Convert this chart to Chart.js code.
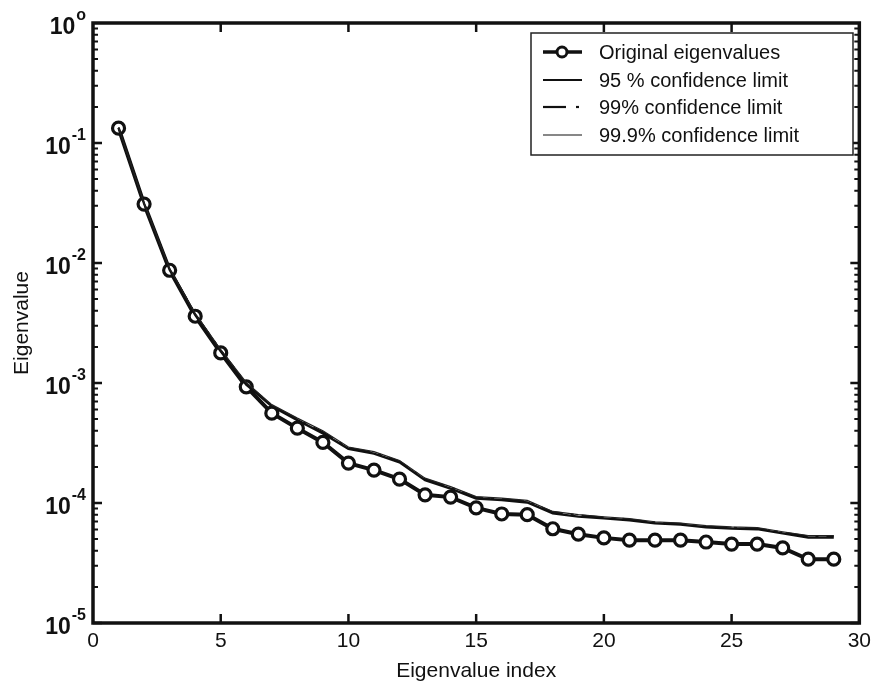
<!DOCTYPE html>
<html>
<head>
<meta charset="utf-8">
<script src="https://cdn.jsdelivr.net/npm/chart.js@4.4.1/dist/chart.umd.min.js"></script>
<style>
  html, body { margin: 0; padding: 0; background: #fff; }
  #wrap { width: 877px; height: 684px; }
</style>
</head>
<body>
<div id="wrap"><canvas id="eigChart" width="877" height="684"></canvas></div>
<script>
// values
const eigIndex = [1, 2, 3, 4, 5, 6, 7, 8, 9, 10, 11, 12, 13, 14, 15, 16, 17, 18, 19, 20, 21, 22, 23, 24, 25, 26, 27, 28, 29];
const originalEig = [0.133, 0.031, 0.0087, 0.0036, 0.00178, 0.00093, 0.00056, 0.00042, 0.00032, 0.000215,
    0.000188, 0.000158, 0.000117, 0.000112, 0.000091, 0.000081, 0.000080, 0.000061, 0.000055, 0.0000512,
    0.000049, 0.000049, 0.000049, 0.0000473, 0.0000455, 0.0000455, 0.0000422, 0.000034, 0.000034];
const conf95 = [0.134, 0.0312, 0.0088, 0.0037, 0.00184, 0.00097, 0.00064, 0.00049, 0.00038, 0.000283,
    0.000258, 0.000218, 0.000155, 0.000132, 0.000109, 0.000106, 0.000101, 0.000082, 0.000077, 0.0000745,
    0.0000718, 0.0000678, 0.0000660, 0.0000628, 0.0000613, 0.0000605, 0.0000558, 0.0000516, 0.0000516];
const conf99 = [0.134, 0.0313, 0.0089, 0.00375, 0.00187, 0.00099, 0.00065, 0.00050, 0.00039, 0.000288,
    0.000263, 0.000222, 0.000158, 0.000135, 0.000111, 0.000108, 0.000103, 0.000084, 0.000079, 0.0000758,
    0.0000730, 0.0000688, 0.0000670, 0.0000638, 0.0000622, 0.0000614, 0.0000566, 0.0000528, 0.0000528];
const conf999 = [0.135, 0.0315, 0.0090, 0.0038, 0.0019, 0.00101, 0.00066, 0.00051, 0.00040, 0.000293,
    0.000268, 0.000226, 0.000161, 0.000137, 0.000113, 0.000110, 0.000105, 0.000085, 0.000080, 0.0000768,
    0.0000740, 0.0000698, 0.0000680, 0.0000648, 0.0000632, 0.0000624, 0.0000576, 0.0000536, 0.0000536];
const xTicks = [0, 5, 10, 15, 20, 25, 30];
const yExponents = [0, -1, -2, -3, -4, -5];
const seriesLabels = ['Original eigenvalues', '95 % confidence limit', '99% confidence limit', '99.9% confidence limit'];

const FONT = '"Liberation Sans", Arial, sans-serif';

function toPoints(values) {
    return eigIndex.map((x, i) => ({ x: x, y: values[i] }));
}

// frame, inward ticks, y labels with exponents, legend
const matlabAxes = {
    id: 'matlabAxes',
    afterDraw(chart) {
        const ctx = chart.ctx;
        const area = chart.chartArea;
        const xs = chart.scales.x;
        const ys = chart.scales.y;
        ctx.save();
        ctx.strokeStyle = '#111';
        ctx.fillStyle = '#111';

        // x ticks (top and bottom, inward)
        ctx.lineWidth = 2.5;
        xTicks.forEach(v => {
            if (v === 0 || v === 30) return;
            const px = xs.getPixelForValue(v);
            ctx.beginPath();
            ctx.moveTo(px, area.bottom); ctx.lineTo(px, area.bottom - 9);
            ctx.moveTo(px, area.top); ctx.lineTo(px, area.top + 9);
            ctx.stroke();
        });

        // y ticks, major and minor
        yExponents.forEach(e => {
            if (e === -5) return;
            for (let m = 1; m <= 9; m++) {
                const v = m * Math.pow(10, e - 1);
                const py = ys.getPixelForValue(v);
                const len = m === 1 ? 9 : 5;
                ctx.lineWidth = m === 1 ? 2.5 : 2;
                ctx.beginPath();
                ctx.moveTo(area.left, py); ctx.lineTo(area.left + len, py);
                ctx.moveTo(area.right, py); ctx.lineTo(area.right - len, py);
                ctx.stroke();
            }
        });

        // frame
        ctx.lineWidth = 3.5;
        ctx.strokeRect(area.left, area.top, area.right - area.left, area.bottom - area.top);

        // y tick labels 10^e
        yExponents.forEach(e => {
            const py = ys.getPixelForValue(Math.pow(10, e));
            const expText = e === 0 ? 'o' : String(e);
            ctx.font = 'bold 16px ' + FONT;
            const expW = ctx.measureText(expText).width;
            ctx.font = 'bold 23px ' + FONT;
            ctx.textAlign = 'right';
            ctx.textBaseline = 'middle';
            const baseRight = area.left - 8 - expW;
            ctx.fillText('10', baseRight, py + 5);
            ctx.font = 'bold 16px ' + FONT;
            ctx.textAlign = 'left';
            ctx.fillText(expText, baseRight + 1, py - 7);
        });

        // legend box
        const lx = 531, ly = 33, lw = 322, lh = 122;
        ctx.fillStyle = '#fff';
        ctx.fillRect(lx, ly, lw, lh);
        ctx.lineWidth = 1.5;
        ctx.strokeStyle = '#222';
        ctx.strokeRect(lx, ly, lw, lh);
        const rows = [52, 80, 107, 135];
        ctx.font = '20px ' + FONT;
        ctx.textAlign = 'left';
        ctx.textBaseline = 'middle';
        rows.forEach((ry, i) => {
            ctx.strokeStyle = '#111';
            ctx.setLineDash([]);
            if (i === 0) {
                ctx.lineWidth = 3.5;
                ctx.beginPath(); ctx.moveTo(543, ry); ctx.lineTo(582, ry); ctx.stroke();
                ctx.lineWidth = 3;
                ctx.fillStyle = '#fff';
                ctx.beginPath(); ctx.arc(562, ry, 5, 0, Math.PI * 2); ctx.fill(); ctx.stroke();
            } else if (i === 1) {
                ctx.lineWidth = 2.2;
                ctx.beginPath(); ctx.moveTo(543, ry); ctx.lineTo(582, ry); ctx.stroke();
            } else if (i === 2) {
                ctx.lineWidth = 2.2;
                ctx.beginPath(); ctx.moveTo(543, ry); ctx.lineTo(566, ry); ctx.stroke();
                ctx.beginPath(); ctx.moveTo(576, ry); ctx.lineTo(579, ry); ctx.stroke();
            } else {
                ctx.lineWidth = 1.2;
                ctx.beginPath(); ctx.moveTo(543, ry); ctx.lineTo(582, ry); ctx.stroke();
            }
            ctx.fillStyle = '#111';
            ctx.fillText(seriesLabels[i], 599, ry + 1);
        });
        ctx.restore();
    }
};

const ctx = document.getElementById('eigChart').getContext('2d');
new Chart(ctx, {
    type: 'line',
    data: {
        datasets: [
            {
                label: seriesLabels[3],
                data: toPoints(conf999),
                borderColor: '#222',
                borderWidth: 1.2,
                pointRadius: 0,
                tension: 0,
            },
            {
                label: seriesLabels[2],
                data: toPoints(conf99),
                borderColor: '#111',
                borderWidth: 2,
                borderDash: [22, 8, 3, 8],
                pointRadius: 0,
                tension: 0,
            },
            {
                label: seriesLabels[1],
                data: toPoints(conf95),
                borderColor: '#111',
                borderWidth: 2.4,
                pointRadius: 0,
                tension: 0,
            },
            {
                label: seriesLabels[0],
                data: toPoints(originalEig),
                borderColor: '#111',
                borderWidth: 4,
                pointRadius: 6,
                pointBorderWidth: 3.2,
                pointBackgroundColor: '#fff',
                pointBorderColor: '#111',
                tension: 0,
            },
        ]
    },
    options: {
        responsive: false,
        animation: false,
        devicePixelRatio: 1,
        layout: { padding: { left: 0, right: 14, top: 23, bottom: 0 } },
        plugins: {
            legend: { display: false },
            tooltip: { enabled: false },
        },
        scales: {
            x: {
                type: 'linear',
                min: 0,
                max: 30,
                grid: { display: false, drawTicks: false },
                border: { display: false },
                afterBuildTicks: (scale) => { scale.ticks = xTicks.map(v => ({ value: v })); },
                afterFit: (scale) => { scale.height = 61; },
                ticks: {
                    color: '#111',
                    font: { family: FONT, size: 21 },
                    padding: 6,
                    maxRotation: 0,
                },
                title: {
                    display: true,
                    text: 'Eigenvalue index',
                    color: '#111',
                    font: { family: FONT, size: 21 },
                    padding: { top: 2, bottom: 0 },
                },
            },
            y: {
                type: 'logarithmic',
                min: 1e-5,
                max: 1,
                grid: { display: false, drawTicks: false },
                border: { display: false },
                afterFit: (scale) => { scale.width = 93; },
                ticks: { display: false },
                title: {
                    display: true,
                    text: 'Eigenvalue',
                    color: '#111',
                    font: { family: FONT, size: 21 },
                    padding: { top: 10, bottom: 0 },
                },
            },
        },
    },
    plugins: [matlabAxes],
});
</script>
</body>
</html>
